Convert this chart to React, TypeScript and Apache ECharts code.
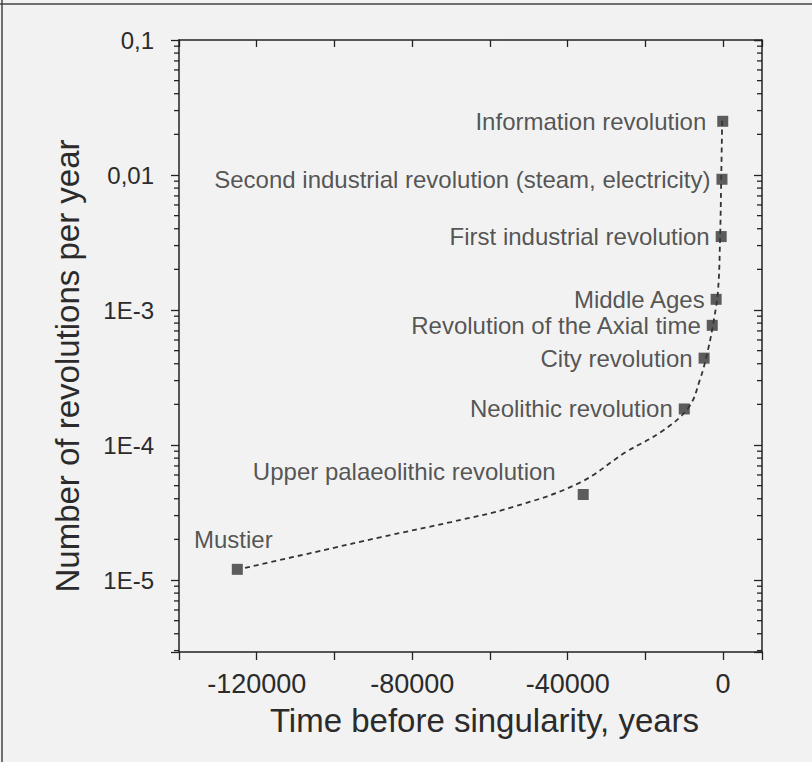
import React, { useEffect, useRef } from 'react';
import * as echarts from 'echarts';

const events = [
  'Mustier',
  'Upper palaeolithic revolution',
  'Neolithic revolution',
  'City revolution',
  'Revolution of the Axial time',
  'Middle Ages',
  'First industrial revolution',
  'Second industrial revolution (steam, electricity)',
  'Information revolution',
];
const eventYears = [-125000, -36000, -10000, -4900, -2800, -1800, -500, -300, -100];
const eventRates = [1.2e-5, 4.3e-5, 1.85e-4, 4.4e-4, 7.7e-4, 1.2e-3, 3.5e-3, 9.3e-3, 0.025];

const fitYears = [-123000, -105000, -88000, -70000, -54000, -37000, -25000, -16000, -9000, -6000, -3900, -2300, -1300, -800, -500, -250];
const fitRates = [1.23e-5, 1.61e-5, 2.08e-5, 2.69e-5, 3.48e-5, 5.24e-5, 8.87e-5, 1.25e-4, 1.88e-4, 3.03e-4, 5.06e-4, 8.73e-4, 1.41e-3, 3.3e-3, 9.19e-3, 2.55e-2];

const xTickValues = [-120000, -80000, -40000, 0];
const xTickLabels = ['-120000', '-80000', '-40000', '0'];
const yTickExponents = [-1, -2, -3, -4, -5];
const yTickLabels = ['0,1', '0,01', '1E-3', '1E-4', '1E-5'];

const X_MIN = -140000;
const X_MAX = 10000;
const Y_MIN = 2.93e-6;
const Y_MAX = 0.1;

const minorMultipliers = [2, 3, 4, 5, 6, 7, 8, 9];
const minorDecades = [-6, -5, -4, -3, -2];

const FONT = "'Liberation Sans', Arial, sans-serif";
const INK = '#2b2b2b';
const AXIS = '#222';

export default function App() {
  const ref = useRef<HTMLDivElement>(null);
  useEffect(() => {
    if (!ref.current) return;
    const chart = echarts.init(ref.current, undefined, { renderer: 'svg' });

    const minorVals: number[] = [];
    minorDecades.forEach((d) => {
      minorMultipliers.forEach((m) => {
        const v = m * Math.pow(10, d);
        if (v >= Y_MIN && v <= Y_MAX) minorVals.push(v);
      });
    });

    const labelFor = (i: number) => {
      if (i === 0) return { position: 'top', distance: 12, offset: [-4, 0] };
      if (i === 1) return { position: 'left', distance: 22, offset: [0, -23] };
      if (i === events.length - 1) return { position: 'left', distance: 11 };
      return { position: 'left', distance: 6 };
    };

    const scatterData = events.map((name, i) => ({
      name,
      value: [eventYears[i], eventRates[i]],
      label: labelFor(i),
    }));

    const axisCommonX = {
      type: 'value',
      min: X_MIN,
      max: X_MAX,
      interval: 20000,
      splitLine: { show: false },
      axisLine: { show: true, onZero: false, lineStyle: { color: AXIS, width: 1.5 } },
    };
    const axisCommonY = {
      type: 'log',
      logBase: 10,
      min: Y_MIN,
      max: Y_MAX,
      splitLine: { show: false },
      axisLine: { show: true, onZero: false, lineStyle: { color: AXIS, width: 1.5 } },
    };

    chart.setOption({
      animation: false,
      backgroundColor: '#f2f2f2',
      textStyle: { fontFamily: FONT },
      grid: { left: 179, top: 40, width: 583, height: 612, outerBoundsMode: 'none', containLabel: false },
      xAxis: [
        {
          ...axisCommonX,
          position: 'bottom',
          name: 'Time before singularity, years',
          nameLocation: 'middle',
          nameGap: 52,
          nameTextStyle: { fontSize: 33, color: INK, fontFamily: FONT, padding: [0, 0, 0, 28] },
          axisTick: { show: true, inside: false, length: 8, lineStyle: { color: AXIS, width: 1.3 } },
          axisLabel: {
            fontSize: 27,
            color: INK,
            fontFamily: FONT,
            margin: 18,
            formatter: (v: number) => {
              const idx = xTickValues.findIndex((t) => Math.abs(t - v) < 1e-6);
              return idx >= 0 ? xTickLabels[idx] : '';
            },
          },
        },
        {
          ...axisCommonX,
          position: 'top',
          axisTick: { show: true, inside: true, length: 7, lineStyle: { color: AXIS, width: 1.3 } },
          axisLabel: { show: false },
        },
      ],
      yAxis: [
        {
          ...axisCommonY,
          position: 'left',
          name: 'Number of revolutions per year',
          nameLocation: 'middle',
          nameGap: 95,
          nameTextStyle: { fontSize: 33, color: INK, fontFamily: FONT, padding: [0, 40, 0, 0] },
          axisTick: { show: true, inside: false, length: 8, lineStyle: { color: AXIS, width: 1.3 } },
          axisLabel: {
            fontSize: 24,
            color: INK,
            fontFamily: FONT,
            margin: 25,
            formatter: (v: number) => {
              const e = Math.log10(v);
              const r = Math.round(e);
              if (Math.abs(e - r) > 1e-6) return '';
              const idx = yTickExponents.indexOf(r);
              return idx >= 0 ? yTickLabels[idx] : '';
            },
          },
        },
        {
          ...axisCommonY,
          position: 'right',
          axisTick: { show: true, inside: true, length: 8, lineStyle: { color: AXIS, width: 1.3 } },
          axisLabel: { show: false },
        },
      ],
      series: [
        {
          type: 'custom',
          silent: true,
          clip: false,
          xAxisIndex: 0,
          yAxisIndex: 0,
          data: minorVals.map((v) => [X_MIN, v]),
          renderItem: (params: any, api: any) => {
            const v = api.value(1);
            const pL = api.coord([X_MIN, v]);
            const pR = api.coord([X_MAX, v]);
            return {
              type: 'group',
              children: [
                { type: 'line', shape: { x1: pL[0] - 5, y1: pL[1], x2: pL[0], y2: pL[1] }, style: { stroke: AXIS, lineWidth: 1.3 } },
                { type: 'line', shape: { x1: pR[0] - 5, y1: pR[1], x2: pR[0], y2: pR[1] }, style: { stroke: AXIS, lineWidth: 1.3 } },
              ],
            };
          },
        },
        {
          type: 'line',
          name: 'fit',
          data: fitYears.map((t, i) => [t, fitRates[i]]),
          smooth: 0.4,
          showSymbol: false,
          symbol: 'none',
          lineStyle: { color: '#333', width: 1.8, type: [5, 4] },
          silent: true,
          z: 2,
        },
        {
          type: 'scatter',
          name: 'events',
          symbol: 'rect',
          symbolSize: 11,
          itemStyle: { color: '#363636' },
          data: scatterData,
          label: {
            show: true,
            formatter: '{b}',
            fontSize: 24,
            color: INK,
            fontFamily: FONT,
          },
          z: 3,
        },
      ],
      graphic: [
        { type: 'line', shape: { x1: 0, y1: 4, x2: 812, y2: 4 }, style: { stroke: '#444', lineWidth: 1.5 } },
        { type: 'line', shape: { x1: 2, y1: 0, x2: 2, y2: 762 }, style: { stroke: '#444', lineWidth: 1.5 } },
      ],
    });
    return () => chart.dispose();
  }, []);
  return <div ref={ref} style={{ position: 'fixed', left: 0, top: 0, width: 812, height: 762 }} />;
}
